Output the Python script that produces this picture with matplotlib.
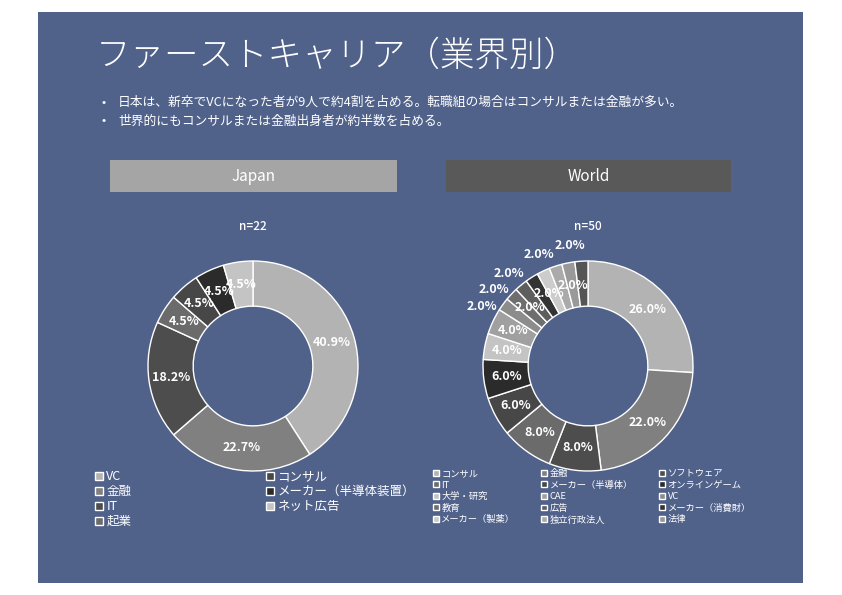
import matplotlib
matplotlib.use("Agg")
import matplotlib.pyplot as plt
from matplotlib.patches import Rectangle
import numpy as np

plt.rcParams['font.family'] = ['Noto Sans CJK JP', 'DejaVu Sans']

# ---------------- data ----------------
title = "ファーストキャリア（業界別）"
bullets = [
    "日本は、新卒でVCになった者が9人で約4割を占める。転職組の場合はコンサルまたは金融が多い。",
    "世界的にもコンサルまたは金融出身者が約半数を占める。",
]

japan_labels = ["VC", "金融", "IT", "起業", "コンサル", "メーカー（半導体装置）", "ネット広告"]
japan_counts = [9, 5, 4, 1, 1, 1, 1]
japan_n = 22

world_labels = ["コンサル", "金融", "ソフトウェア", "IT", "メーカー（半導体）", "オンラインゲーム",
                "大学・研究", "CAE", "VC", "教育", "広告", "メーカー（消費財）",
                "メーカー（製薬）", "独立行政法人", "法律", "その他"]
world_counts = [13, 11, 4, 4, 3, 3, 2, 2, 1, 1, 1, 1, 1, 1, 1, 1]
world_n = 50
world_legend_count = 15  # legend in reference lists the first 15 categories

# ---------------- style ----------------
W, H = 842, 595
BG = "#50618a"
japan_colors = ['#b3b3b3', '#808080', '#4d4d4d', '#6b6b6b', '#474747', '#2b2b2b', '#c4c4c4']
world_colors = ['#b3b3b3', '#808080', '#4d4d4d', '#6b6b6b', '#474747', '#2b2b2b', '#c4c4c4',
                '#a0a0a0', '#8c8c8c', '#6e6e6e', '#5e5e5e', '#333333', '#cccccc', '#aaaaaa',
                '#999999', '#555555']
# label placement for world slices: 'i' inside ring, 'o' outside; nudge in degrees (ccw)
world_place = ['i'] * 8 + ['o', 'o', 'i', 'o', 'i', 'o', 'i', 'o']
world_nudge = [0] * 8 + [7, 4, 5, 8, 3, 6, 0, 5]

def fx(px):
    return px / W

def fy(py):
    return 1 - py / H

fig = plt.figure(figsize=(W / 100, H / 100), dpi=100)
fig.patch.set_facecolor("white")

# background panel
fig.add_artist(Rectangle((fx(38), fy(583)), fx(803) - fx(38), fy(12) - fy(583),
                         transform=fig.transFigure, facecolor=BG, edgecolor="none", zorder=0))

fig.text(fx(96), fy(56), title, color="white", fontsize=24.8, fontweight="light",
         va="center", ha="left")
for i, b in enumerate(bullets):
    yy = fy(102 + 19 * i)
    fig.text(fx(101), yy, "•", color="white", fontsize=9, va="center", ha="left")
    fig.text(fx(118), yy, b, color="white", fontsize=9.2, va="center", ha="left")

# header boxes
for (x0, x1, col, txt) in [(110, 397, "#a5a5a5", "Japan"), (446, 731, "#595959", "World")]:
    fig.add_artist(Rectangle((fx(x0), fy(192)), fx(x1) - fx(x0), fy(160) - fy(192),
                             transform=fig.transFigure, facecolor=col, edgecolor="none", zorder=1))
    fig.text(fx((x0 + x1) / 2), fy(176), txt, color="white", fontsize=11,
             va="center", ha="center", zorder=2)


def donut(cx, cy, counts, colors, n, place=None, nudge=None):
    S = 300
    R = 105
    lim = S / 2 / R
    ax = fig.add_axes([fx(cx - S / 2), fy(cy + S / 2), S / W, S / H])
    wedges, _ = ax.pie(counts, colors=colors, startangle=90, counterclock=False, radius=1.0,
                       wedgeprops=dict(width=0.43, edgecolor="white", linewidth=1.0))
    ax.set_xlim(-lim, lim)
    ax.set_ylim(-lim, lim)
    ax.set_aspect("equal")
    ax.axis("off")
    for i, w in enumerate(wedges):
        pct = 100.0 * counts[i] / n
        ang = (w.theta1 + w.theta2) / 2
        r = 0.785
        if place is not None:
            ang += nudge[i]
            if place[i] == 'o':
                r = 1.16
        t = np.deg2rad(ang)
        ax.text(r * np.cos(t), r * np.sin(t), f"{pct:.1f}%", color="white",
                fontsize=9, fontweight="bold", ha="center", va="center", clip_on=False)
    fig.text(fx(cx), fy(226), f"n={n}", color="white", fontsize=8.5, fontweight="medium",
             ha="center", va="center")
    return ax, wedges


axj, wj = donut(253, 366, japan_counts, japan_colors, japan_n)
axw, ww = donut(588, 366, world_counts, world_colors, world_n, world_place, world_nudge)

# legends
legj = fig.legend(wj, japan_labels, ncol=2, loc="upper left",
                  bbox_to_anchor=(fx(95), fy(470)), frameon=False, labelcolor="white",
                  fontsize=9, handlelength=0.6, handleheight=0.6, handletextpad=0.3,
                  labelspacing=0.16, columnspacing=10.8, borderpad=0, borderaxespad=0)

nrow, ncol = 5, 3
idx = [r * ncol + c for c in range(ncol) for r in range(nrow)]
legw = fig.legend([ww[i] for i in idx], [world_labels[i] for i in idx], ncol=ncol,
                  loc="upper left", bbox_to_anchor=(fx(433), fy(469)), frameon=False,
                  labelcolor="white", fontsize=6.7, handlelength=0.6, handleheight=0.6,
                  handletextpad=0.3, labelspacing=0.27, columnspacing=2.8, borderpad=0,
                  borderaxespad=0)

fig.savefig("out.png", dpi=100, facecolor=fig.get_facecolor())
